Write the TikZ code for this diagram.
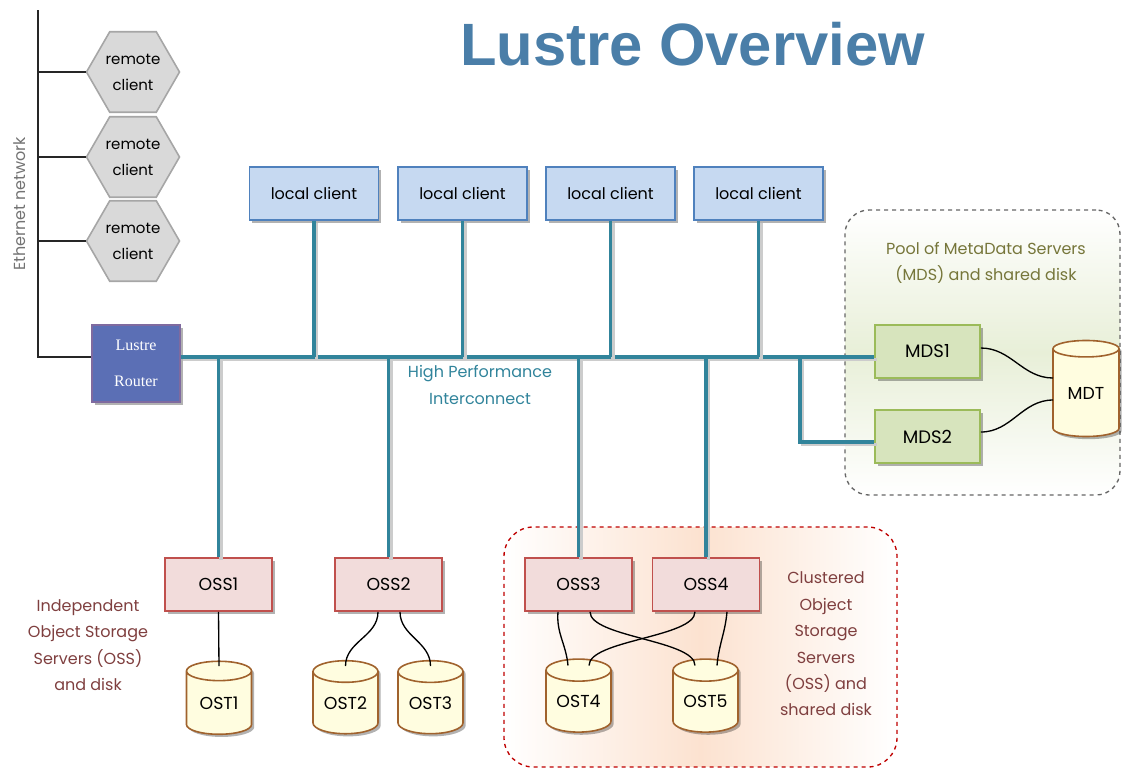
\documentclass[tikz,border=0pt]{standalone}
\usepackage{fontspec}
\setmainfont{Poppins}
\newfontfamily\titlefont{Liberation Sans}
\newfontfamily\routerfont{Liberation Serif}
\usetikzlibrary{shapes.geometric,shadows,calc}
\definecolor{teal1}{HTML}{31849B}
\definecolor{titleblue}{HTML}{4A7EA8}
\definecolor{lcfill}{HTML}{C6D9F1}
\definecolor{lcdraw}{HTML}{4F81BD}
\definecolor{ossfill}{HTML}{F2DCDB}
\definecolor{ossdraw}{HTML}{C0504D}
\definecolor{mdsfill}{HTML}{D7E4BD}
\definecolor{mdsdraw}{HTML}{9BBB59}
\definecolor{diskfill}{HTML}{FFFDE0}
\definecolor{diskdraw}{HTML}{A0622D}
\definecolor{hexfill}{HTML}{D9D9D9}
\definecolor{hexdraw}{HTML}{A6A6A6}
\definecolor{routerfill}{HTML}{5B6FB5}
\definecolor{routerdraw}{HTML}{7F6A9F}
\definecolor{redtext}{HTML}{7F3F3F}
\definecolor{olivetext}{HTML}{76763A}
\definecolor{peach}{HTML}{FCE2D0}
\definecolor{palegreen}{HTML}{E8EFD8}
\begin{document}
\begin{tikzpicture}[x=0.75pt,y=-0.75pt,
  shadowed/.style={drop shadow={shadow xshift=2pt,shadow yshift=-2pt,opacity=0.3,fill=black}},
  box/.style={rectangle, line width=1.2pt, shadowed, inner sep=0pt, font=\fontsize{13}{15}\selectfont},
  lclient/.style={box, fill=lcfill, draw=lcdraw, minimum width=96.75pt, minimum height=39.75pt, font=\fontsize{12}{14}\selectfont},
  ossbox/.style={box, fill=ossfill, draw=ossdraw, minimum width=80.25pt, minimum height=39.75pt},
  mdsbox/.style={box, fill=mdsfill, draw=mdsdraw, minimum width=78.75pt, minimum height=39.75pt, font=\fontsize{13.5}{15}\selectfont},
  hexnode/.style={regular polygon, regular polygon sides=6, minimum size=69.75pt, inner sep=0pt, fill=hexfill, draw=hexdraw, line width=1.2pt, align=center, font=\fontsize{11.25}{19.5}\selectfont},
  disk/.style={cylinder, shape border rotate=90, aspect=0.5, fill=diskfill, draw=diskdraw, line width=1.2pt, minimum width=48.75pt, minimum height=54.75pt, inner sep=0pt, shadowed, font=\fontsize{13}{15}\selectfont},
  bus/.style={draw=teal1, line width=2.6pt, preaction={draw=black!20, line width=2.6pt, transform canvas={shift={(1.8pt,-1.8pt)}}}},
  wire/.style={draw=black, line width=1pt},
  eth/.style={draw=black!85, line width=1.3pt},
  poolbox/.style={rectangle, rounded corners=18pt, draw=black!60, dashed, line width=1pt, minimum width=206.25pt, minimum height=213.75pt, top color=white, bottom color=white, middle color=palegreen},
  clusterbox/.style={rectangle, rounded corners=22pt, draw=red!75!black, dashed, line width=1pt, minimum width=294.75pt, minimum height=180pt, left color=white, right color=white, middle color=peach},
  note/.style={align=center, font=\fontsize{12}{19.8}\selectfont}
]
\useasboundingbox (0,0) rectangle (1124,769);
% group boxes
\node[poolbox] (pool) at (982.5,352.5) {};
\node[clusterbox] (cluster) at (700.5,647) {};
% title
\node[anchor=base, font=\titlefont\bfseries\fontsize{44.8}{50}\selectfont, text=titleblue] (title) at (692.5,65) {Lustre Overview};
% remote clients
\node[hexnode] (hex1) at (133,72) {remote\\client};
\node[hexnode] (hex2) at (133,157) {remote\\client};
\node[hexnode] (hex3) at (133,241) {remote\\client};
\node[rotate=90, text=black!55, font=\fontsize{12}{14}\selectfont] (ethlabel) at (20,204) {Ethernet network};
% router
\node[box, fill=routerfill, draw=routerdraw, minimum width=66pt, minimum height=57.75pt, text=white, font=\routerfont\fontsize{12}{27}\selectfont, align=center] (router) at (136,363.5) {Lustre\\Router};
% local clients
\node[lclient] (lc1) at (314,193.5) {local client};
\node[lclient] (lc2) at (462.5,193.5) {local client};
\node[lclient] (lc3) at (610.5,193.5) {local client};
\node[lclient] (lc4) at (758.5,193.5) {local client};
% MDS
\node[mdsbox] (mds1) at (927.5,351.5) {MDS1};
\node[mdsbox] (mds2) at (927.5,436.5) {MDS2};
\node[disk, minimum width=49.5pt, minimum height=72pt, aspect=0.45] (mdt) at (1086,393) {MDT};
% OSS
\node[ossbox] (oss1) at (218.5,584.5) {OSS1};
\node[ossbox] (oss2) at (388.5,584.5) {OSS2};
\node[ossbox] (oss3) at (578.5,584.5) {OSS3};
\node[ossbox] (oss4) at (706,584.5) {OSS4};
% OST
\node[disk] (ost1) at (219,703) {OST1};
\node[disk] (ost2) at (345.5,703) {OST2};
\node[disk] (ost3) at (430.5,703) {OST3};
\node[disk] (ost4) at (578.5,701.5) {OST4};
\node[disk] (ost5) at (705.5,701.5) {OST5};
% labels
\node[note, text=olivetext] (poollabel) at (986,263) {Pool of MetaData Servers\\(MDS) and shared disk};
\node[note, text=redtext] (clusterlabel) at (826,644) {Clustered\\Object\\Storage\\Servers\\(OSS) and\\shared disk};
\node[note, text=redtext] (indeplabel) at (88,645) {Independent\\Object Storage\\Servers (OSS)\\and disk};
\node[note, text=teal1] (hpi) at (480,385) {High Performance\\Interconnect};
% ethernet
\coordinate (ethtop) at (38,10);
\coordinate (bus) at (0,357);
\draw[eth] (ethtop) |- (router.west |- bus);
\draw[eth] (hex1.west) -- (hex1.west -| ethtop);
\draw[eth] (hex2.west) -- (hex2.west -| ethtop);
\draw[eth] (hex3.west) -- (hex3.west -| ethtop);
% interconnect
\coordinate (branch) at (800,357);
\draw[bus] (router.east |- bus) -- (mds1.west |- bus);
\draw[bus] (branch) |- ($(mds2.west)+(0,5.5)$);
\draw[bus] (lc1.south) -- (lc1.south |- bus);
\draw[bus] (lc2.south) -- (lc2.south |- bus);
\draw[bus] (lc3.south) -- (lc3.south |- bus);
\draw[bus] (lc4.south) -- (lc4.south |- bus);
\draw[bus] (oss1.north |- bus) -- (oss1.north);
\draw[bus] (oss2.north |- bus) -- (oss2.north);
\draw[bus] (oss3.north |- bus) -- (oss3.north);
\draw[bus] (oss4.north |- bus) -- (oss4.north);
% disk wires
\draw[wire] (oss1.south) -- ($(ost1.center)+(0,-37)$);
\draw[wire] ($(oss2.south)+(-10.5,0)$) to[out=-90,in=90] ($(ost2.center)+(0,-37)$);
\draw[wire] ($(oss2.south)+(11.5,0)$) to[out=-90,in=90] ($(ost3.center)+(0,-37)$);
\draw[wire] ($(oss3.south)+(-20.5,0)$) to[out=-95,in=95] ($(ost4.center)+(-10.5,-36)$);
\draw[wire] ($(oss3.south)+(11.5,0)$) to[out=-90,in=90,looseness=0.55] ($(ost5.center)+(-10.5,-36)$);
\draw[wire] ($(oss4.south)+(-11,0)$) to[out=-90,in=90,looseness=0.55] ($(ost4.center)+(10.5,-36)$);
\draw[wire] ($(oss4.south)+(21,0)$) to[out=-95,in=85] ($(ost5.center)+(11.5,-36)$);
\draw[wire] ($(mds1.east)+(0,-3.5)$) to[out=0,in=180] ($(mdt.center)+(-33,-15)$);
\draw[wire] ($(mds2.east)+(0,-4.5)$) to[out=0,in=180] ($(mdt.center)+(-33,7)$);
\end{tikzpicture}
\end{document}
